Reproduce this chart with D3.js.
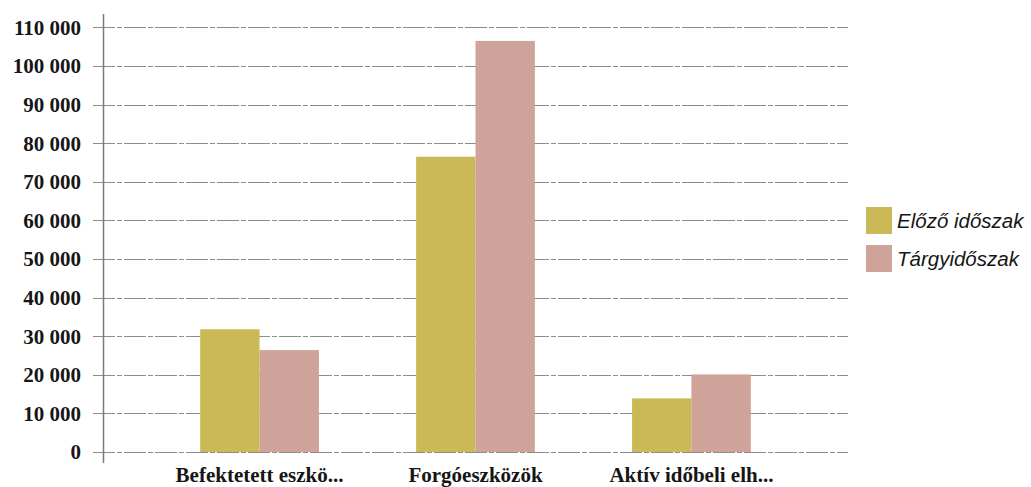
<!DOCTYPE html>
<html><head><meta charset="utf-8">
<script src="https://cdn.jsdelivr.net/npm/d3@7"></script>
<style>body{margin:0;background:#fff;}svg{display:block;}</style>
</head><body>
<svg id="c" width="1031" height="487"></svg>
<script>
const categories = ["Befektetett eszkö...", "Forgóeszközök", "Aktív időbeli elh..."];
const seriesNames = ["Előző időszak", "Tárgyidőszak"];
const previousValues = [31800, 76500, 13900];
const currentValues = [26400, 106500, 20100];
const yTicks = [0,10000,20000,30000,40000,50000,60000,70000,80000,90000,100000,110000];
const colors = ["#cbb957", "#cfa39a"];

(function () {
const svg = d3.select("#c");
const mLeft = 103, mRight = 848, mTop = 27.4, mBottom = 452;
const y = d3.scaleLinear().domain([0,110000]).range([mBottom, mTop]);
const x = d3.scaleBand().domain(categories).range([mLeft, mRight]).padding(0.45);
const xs = d3.scaleBand().domain(seriesNames).range([0, x.bandwidth()]);
const fmt = v => d3.format(",")(v).replace(/,/g, " ");

// gridlines
svg.append("g").selectAll("line").data(yTicks).join("line")
  .attr("x1", 93).attr("x2", mRight)
  .attr("y1", d => Math.round(y(d)) + 0.5).attr("y2", d => Math.round(y(d)) + 0.5)
  .attr("stroke", "#8c8c8c").attr("stroke-width", 1).attr("stroke-dasharray", "22,2,5,2");

// y tick labels
svg.append("g").selectAll("text").data(yTicks).join("text")
  .attr("x", 81).attr("y", d => y(d)).attr("dy", "0.35em")
  .attr("text-anchor", "end")
  .attr("font-family", "Liberation Serif, Times New Roman, serif")
  .attr("font-weight", "bold").attr("font-size", 21).attr("fill", "#161616")
  .text(fmt);

// bars
const data = categories.map((c, i) => ({c, vals: [previousValues[i], currentValues[i]]}));
const g = svg.append("g").selectAll("g").data(data).join("g")
  .attr("transform", d => `translate(${x(d.c)},0)`);
g.selectAll("rect").data(d => d.vals.map((v, j) => ({v, s: seriesNames[j], j}))).join("rect")
  .attr("x", d => xs(d.s)).attr("width", xs.bandwidth())
  .attr("y", d => y(d.v)).attr("height", d => y(0) - y(d.v))
  .attr("fill", d => colors[d.j]);

// y axis line
svg.append("line").attr("x1", mLeft + 0.5).attr("x2", mLeft + 0.5).attr("y1", 14).attr("y2", 463)
  .attr("stroke", "#7a7a7a").attr("stroke-width", 1.5);

// category labels
svg.append("g").selectAll("text").data(categories).join("text")
  .attr("x", d => x(d) + x.bandwidth() / 2).attr("y", 482)
  .attr("text-anchor", "middle")
  .attr("font-family", "Liberation Serif, Times New Roman, serif")
  .attr("font-weight", "bold").attr("font-size", 21).attr("fill", "#161616")
  .text(d => d);

// legend
const lg = svg.append("g").selectAll("g").data(seriesNames).join("g")
  .attr("transform", (d, i) => `translate(866,${207 + i * 38})`);
lg.append("rect").attr("width", 26).attr("height", 27).attr("fill", (d, i) => colors[i]);
lg.append("text").attr("x", 31).attr("y", 13.5).attr("dy", "0.35em")
  .attr("font-family", "Liberation Sans, Arial, sans-serif").attr("font-style", "italic")
  .attr("font-size", 20.5).attr("fill", "#161616").text(d => d);
})();
</script>
</body></html>
